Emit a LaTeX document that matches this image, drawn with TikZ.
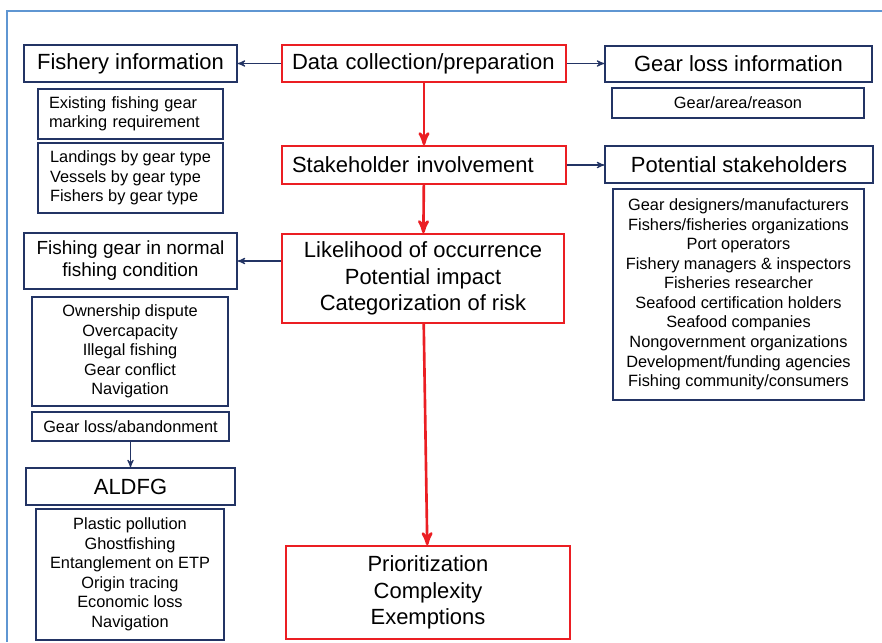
\documentclass[tikz,border=0pt]{standalone}
\usepackage{fontspec}
\setmainfont{Liberation Sans}
\usepackage{xcolor}
\usepackage{tikz}
\usetikzlibrary{
    arrows
}
\definecolor{navy}{RGB}{35,52,100}
\definecolor{riskred}{RGB}{235,30,35}
\definecolor{framebl}{RGB}{95,150,210}

\begin{document}
\begin{tikzpicture}[>=stealth',semithick]
    \tikzstyle{bluebox}=[draw=navy, line width=0.75pt, inner sep=0pt, align=center, font=\fontsize{9.3}{11.1}\selectfont]
    \tikzstyle{headbox}=[bluebox, font=\fontsize{12.5}{15}\selectfont]
    \tikzstyle{redbox}=[draw=riskred, line width=1pt, inner sep=0pt, align=center, font=\fontsize{12.5}{15}\selectfont]
    \tikzstyle{bluearr}=[->, draw=navy, line width=0.6pt]
    \tikzstyle{redarr}=[->, draw=riskred, line width=1.5pt]
    \useasboundingbox (0,0) rectangle (17.64,-12.84);
    \draw [framebl, line width=0.8pt] (17.64,-0.22) -- (0.14,-0.22) -- (0.14,-12.84);
	% middle column
	\node [redbox, text width=5.28cm, align=left, inner xsep=0.2cm, minimum height=0.74cm] (data) at (8.48,-1.27) {Data collection/preparation};
	\node [redbox, text width=5.28cm, align=left, inner xsep=0.2cm, minimum height=0.76cm] (stake) at (8.48,-3.30) {Stakeholder involvement};
	\node [redbox, minimum width=5.64cm, minimum height=1.78cm] (risk) at (8.46,-5.57)
	{Likelihood of occurrence\\ Potential impact\\ Categorization of risk};
	\node [redbox, minimum width=5.68cm, minimum height=1.86cm] (prio) at (8.56,-11.85)
	{Prioritization\\ Complexity\\ Exemptions};
	% left column
	\node [headbox, minimum width=4.26cm, minimum height=0.74cm] (fish) at (2.61,-1.27) {Fishery information};
	\node [bluebox, text width=3.26cm, align=left, inner xsep=0.22cm, minimum height=1.00cm] (marking) at (2.61,-2.28)
	{Existing fishing gear\\ marking requirement};
	\node [bluebox, align=left, minimum width=3.70cm, minimum height=1.40cm] (landings) at (2.61,-3.56)
	{Landings by gear type\\ Vessels by gear type\\ Fishers by gear type};
	\node [bluebox, font=\fontsize{10.8}{12.5}\selectfont, minimum width=4.26cm, minimum height=1.12cm] (normal) at (2.61,-5.22)
	{Fishing gear in normal\\ fishing condition};
	\node [bluebox, minimum width=3.92cm, minimum height=2.18cm] (causes) at (2.60,-7.03)
	{Ownership dispute\\ Overcapacity\\ Illegal fishing\\ Gear conflict\\ Navigation};
	\node [bluebox, minimum width=3.94cm, minimum height=0.58cm] (loss) at (2.61,-8.53) {Gear loss/abandonment};
	\node [headbox, minimum width=4.18cm, minimum height=0.74cm] (aldfg) at (2.61,-9.73) {ALDFG};
	\node [bluebox, minimum width=3.76cm, minimum height=2.62cm] (impacts) at (2.60,-11.49)
	{Plastic pollution\\ Ghostfishing\\ Entanglement on ETP\\ Origin tracing\\ Economic loss\\ Navigation};
	% right column
	\node [headbox, minimum width=5.34cm, minimum height=0.72cm] (gearloss) at (14.77,-1.28) {Gear loss information};
	\node [bluebox, minimum width=5.04cm, minimum height=0.60cm] (reason) at (14.76,-2.06) {Gear/area/reason};
	\node [headbox, minimum width=5.36cm, minimum height=0.74cm] (potential) at (14.78,-3.29) {Potential stakeholders};
	\node [bluebox, minimum width=5.02cm, minimum height=4.22cm] (groups) at (14.77,-5.89)
	{Gear designers/manufacturers\\ Fishers/fisheries organizations\\ Port operators\\ Fishery managers \& inspectors\\ Fisheries researcher\\ Seafood certification holders\\ Seafood companies\\ Nongovernment organizations\\ Development/funding agencies\\ Fishing community/consumers};

	\draw [redarr] (data) -- (stake);
	\draw [redarr] (stake) -- (risk);
	\draw [redarr] (risk) -- (prio);
	\draw [bluearr] (data) -- (fish);
	\draw [bluearr] (data.east) -- (data.east -| gearloss.west);
	\draw [bluearr] (stake.east) -- (stake.east -| potential.west);
	\draw [bluearr] (risk.west |- normal.east) -- (normal.east);
	\draw [bluearr] (loss) -- (aldfg);
	\end{tikzpicture}
\end{document}
